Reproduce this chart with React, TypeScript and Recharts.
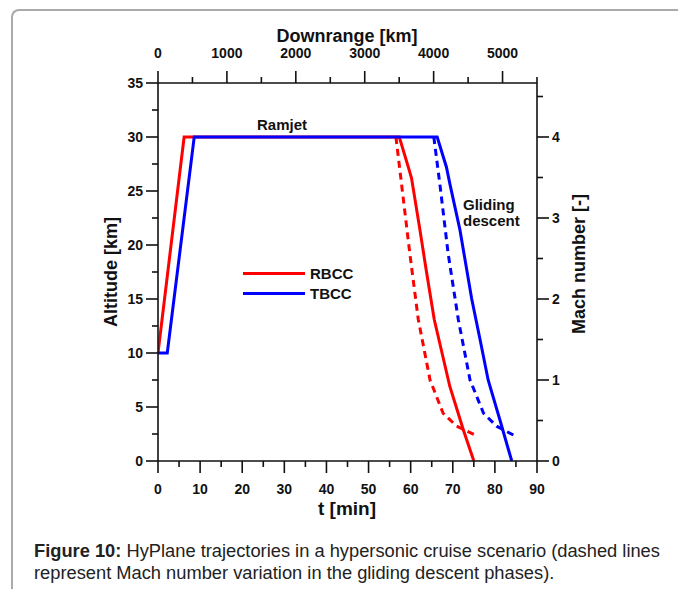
import { LineChart, Line, XAxis, YAxis } from 'recharts';

// time axis [min], altitude [km], Mach [-], downrange [km]
const tTicks = [0, 5, 10, 15, 20, 25, 30, 35, 40, 45, 50, 55, 60, 65, 70, 75, 80, 85, 90];
const altTicks = [0, 2.5, 5, 7.5, 10, 12.5, 15, 17.5, 20, 22.5, 25, 27.5, 30, 32.5, 35];
const machTicks = [0, 0.5, 1, 1.5, 2, 2.5, 3, 3.5, 4, 4.5];
const rangeTicks = [0, 500, 1000, 1500, 2000, 2500, 3000, 3500, 4000, 4500, 5000, 5500];

const rbccAlt = [
  { t: 0, alt: 10 }, { t: 6.2, alt: 30 }, { t: 57.3, alt: 30 }, { t: 59.6, alt: 27 },
  { t: 60.2, alt: 26.2 }, { t: 62.2, alt: 21.4 }, { t: 63.8, alt: 17.4 }, { t: 65.6, alt: 13.1 },
  { t: 69.3, alt: 6.9 }, { t: 72.5, alt: 2.9 }, { t: 75, alt: 0 },
];
const tbccAlt = [
  { t: 0, alt: 10 }, { t: 2.2, alt: 10 }, { t: 8.6, alt: 30 }, { t: 66.3, alt: 30 },
  { t: 68.5, alt: 27.2 }, { t: 69.4, alt: 25.5 }, { t: 71.7, alt: 21.4 }, { t: 74.5, alt: 15 },
  { t: 76.5, alt: 11.2 }, { t: 78.4, alt: 7.5 }, { t: 81.2, alt: 3.8 }, { t: 84, alt: 0 },
];
const rbccMach = [
  { t: 56.5, mach: 4 }, { t: 57.9, mach: 3.39 }, { t: 59.8, mach: 2.56 }, { t: 61.8, mach: 1.75 },
  { t: 64.6, mach: 1.0 }, { t: 67.7, mach: 0.59 }, { t: 70.9, mach: 0.43 }, { t: 75.3, mach: 0.32 },
];
const tbccMach = [
  { t: 65.5, mach: 4 }, { t: 67.0, mach: 3.39 }, { t: 68.9, mach: 2.56 }, { t: 71.3, mach: 1.75 },
  { t: 74.1, mach: 1.0 }, { t: 77.3, mach: 0.59 }, { t: 80.4, mach: 0.43 }, { t: 84.4, mach: 0.32 },
];
// empty carrier so the downrange axis gets drawn (no visible mark)
const rangeAxisData = rangeTicks.map((km) => ({ km, alt: null }));

const series = [
  { name: 'RBCC', color: '#ff0000' },
  { name: 'TBCC', color: '#0000ff' },
];

const font = 'Arial, "Liberation Sans", sans-serif';

function makeTick(orient: 'left' | 'right' | 'top' | 'bottom', isMajor: (v: number) => boolean) {
  return (props: any) => {
    const { x, y, payload } = props;
    const v = payload.value;
    const major = isMajor(v);
    const len = major ? 12 : 6;
    let line = { x1: x, y1: y, x2: x, y2: y };
    let tx = x;
    let ty = y;
    let anchor: 'start' | 'middle' | 'end' = 'middle';
    if (orient === 'left') { line.x1 = x - len; tx = x - 15; anchor = 'end'; }
    if (orient === 'right') { line.x2 = x + len; tx = x + 15; anchor = 'start'; }
    if (orient === 'bottom') { line.y2 = y + len; ty = y + 28; }
    if (orient === 'top') { line.y1 = y - len; ty = y - 30; }
    return (
      <g>
        <line {...line} stroke="#111" strokeWidth={1.6} />
        {major && (
          <text x={tx} y={ty} textAnchor={anchor} dominantBaseline="central"
            fontFamily={font} fontWeight="bold" fontSize={14} fill="#111">
            {v}
          </text>
        )}
      </g>
    );
  };
}

const txt = (s: any): any => ({
  position: 'absolute', fontFamily: font, fontWeight: 'bold', color: '#111',
  whiteSpace: 'nowrap', ...s,
});

export default function App() {
  const axisLine = { stroke: '#111', strokeWidth: 1.6 };
  return (
    <div style={{ position: 'absolute', left: 0, top: 0, width: 678, height: 589, background: '#fff', overflow: 'hidden' }}>
      <div style={{ position: 'absolute', left: 11, top: 9, width: 720, height: 620, borderLeft: '2px solid #aaa', borderTop: '2px solid #aaa', borderTopLeftRadius: 8 }} />
      <LineChart width={678} height={589} margin={{ top: 53, right: 81, bottom: 98, left: 98 }}
        style={{ position: 'absolute', left: 0, top: 0 }}>
        <XAxis xAxisId="t" dataKey="t" type="number" domain={[0, 90]} ticks={tTicks} interval={0}
          height={30} tickSize={0} tickMargin={0} tickLine={false} axisLine={axisLine}
          tick={makeTick('bottom', (v) => v % 10 === 0)} allowDataOverflow />
        <XAxis xAxisId="range" dataKey="km" orientation="top" type="number" domain={[0, 5500]} ticks={rangeTicks} interval={0}
          height={30} tickSize={0} tickMargin={0} tickLine={false} axisLine={axisLine}
          tick={makeTick('top', (v) => v % 1000 === 0)} allowDataOverflow />
        <YAxis yAxisId="alt" type="number" domain={[0, 35]} ticks={altTicks} interval={0}
          width={60} tickSize={0} tickMargin={0} tickLine={false} axisLine={axisLine}
          tick={makeTick('left', (v) => v % 5 === 0)} allowDataOverflow />
        <YAxis yAxisId="mach" orientation="right" type="number" domain={[0, 35 / 7.5]} ticks={machTicks} interval={0}
          width={60} tickSize={0} tickMargin={0} tickLine={false} axisLine={axisLine}
          tick={makeTick('right', (v) => v % 1 === 0)} allowDataOverflow />
        <Line xAxisId="range" yAxisId="alt" data={rangeAxisData} dataKey="alt" stroke="none" dot={false}
          legendType="none" isAnimationActive={false} />
        <Line xAxisId="t" yAxisId="mach" data={rbccMach} dataKey="mach" stroke="#ff0000" strokeWidth={3}
          strokeDasharray="7 5" dot={false} type="linear" isAnimationActive={false} />
        <Line xAxisId="t" yAxisId="mach" data={tbccMach} dataKey="mach" stroke="#0000ff" strokeWidth={3}
          strokeDasharray="7 5" dot={false} type="linear" isAnimationActive={false} />
        <Line xAxisId="t" yAxisId="alt" data={rbccAlt} dataKey="alt" name="RBCC" stroke="#ff0000" strokeWidth={3}
          dot={false} type="linear" isAnimationActive={false} />
        <Line xAxisId="t" yAxisId="alt" data={tbccAlt} dataKey="alt" name="TBCC" stroke="#0000ff" strokeWidth={3}
          dot={false} type="linear" isAnimationActive={false} />
      </LineChart>

      <div style={txt({ left: 347, top: 36, fontSize: 18, lineHeight: 1, transform: 'translate(-50%,-50%)' })}>Downrange [km]</div>
      <div style={txt({ left: 347, top: 509, fontSize: 19, transform: 'translate(-50%,-50%)' })}>t [min]</div>
      <div style={txt({ left: 111, top: 272, fontSize: 18, transform: 'translate(-50%,-50%) rotate(-90deg)' })}>Altitude [km]</div>
      <div style={txt({ left: 579, top: 264, fontSize: 18, transform: 'translate(-50%,-50%) rotate(-90deg)' })}>Mach number [-]</div>
      <div style={txt({ left: 282, top: 124, fontSize: 15, transform: 'translate(-50%,-50%)' })}>Ramjet</div>
      <div style={txt({ left: 463, top: 197, fontSize: 15, lineHeight: '16px' })}>Gliding<br />descent</div>

      {series.map((s, i) => (
        <div key={s.name} style={{ position: 'absolute', left: 243, top: 263 + i * 20, height: 20, display: 'flex', alignItems: 'center' }}>
          <div style={{ width: 62, height: 3, background: s.color }} />
          <span style={txt({ position: 'static', fontSize: 15, marginLeft: 5 })}>{s.name}</span>
        </div>
      ))}

      <div style={{ position: 'absolute', left: 34, top: 540, fontFamily: font, fontSize: 18.3, lineHeight: '22px', color: '#222', whiteSpace: 'nowrap' }}>
        <b>Figure 10:</b> HyPlane trajectories in a hypersonic cruise scenario (dashed lines<br />
        represent Mach number variation in the gliding descent phases).
      </div>
    </div>
  );
}
